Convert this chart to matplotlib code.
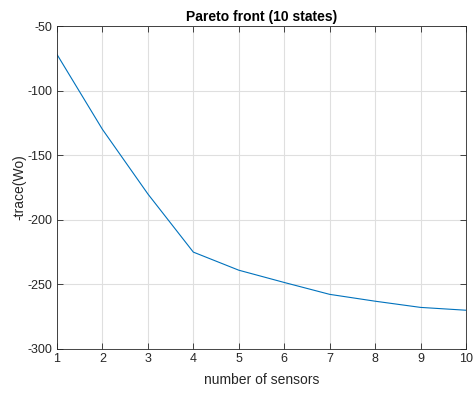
import matplotlib as mpl
mpl.use("Agg")
import matplotlib.pyplot as plt

plt.rcParams.update({
    "font.family": "sans-serif",
    "font.sans-serif": ["Liberation Sans", "DejaVu Sans"],
    "font.size": 9,
    "axes.unicode_minus": False,
})

n_sensors = [1, 2, 3, 4, 5, 6, 7, 8, 9, 10]
neg_trace = [-72, -130, -180, -225, -239, -248.5, -257.7, -263, -267.8, -270]

fig = plt.figure(figsize=(4.74, 3.95), dpi=100)
ax = fig.add_axes([0.1203, 0.1165, 0.8627, 0.8175])
ax.plot(n_sensors, neg_trace, color="#0072BD", lw=0.8)
ax.set_xlim(1, 10)
ax.set_ylim(-300, -50)
ax.set_xticks(range(1, 11))
ax.set_yticks(range(-300, -49, 50))
ax.grid(True, color="#dfdfdf", lw=0.8)
ax.set_axisbelow(True)
ax.tick_params(direction="in", top=True, right=True, length=4, width=0.6,
               colors="#262626", labelsize=9, pad=3)
for s in ax.spines.values():
    s.set_color("#262626")
    s.set_linewidth(0.6)
ax.set_xlabel("number of sensors", fontsize=10, color="#262626", labelpad=6)
ax.set_ylabel("-trace(Wo)", fontsize=10, color="#262626", labelpad=1)
ax.set_title("Pareto front (10 states)", fontsize=10, fontweight="bold", pad=4)
fig.savefig("out.png", dpi=100)
